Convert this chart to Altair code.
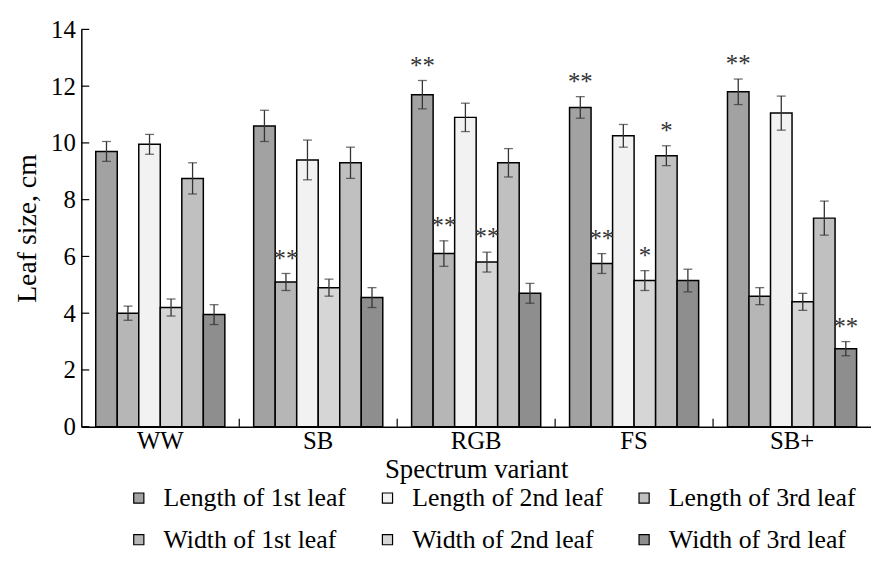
import altair as alt
import pandas as pd

categories = ["WW", "SB", "RGB", "FS", "SB+"]
bar_order = ["Length of 1st leaf", "Width of 1st leaf", "Length of 2nd leaf",
             "Width of 2nd leaf", "Length of 3rd leaf", "Width of 3rd leaf"]
bar_fill = ["#a2a2a2", "#b6b6b6", "#f2f2f2", "#d6d6d6", "#c0c0c0", "#8e8e8e"]

L1 = [9.7, 10.6, 11.7, 11.25, 11.8]
L1_err = [0.35, 0.55, 0.5, 0.38, 0.45]
W1 = [4.0, 5.1, 6.1, 5.75, 4.6]
W1_err = [0.25, 0.3, 0.45, 0.35, 0.3]
L2 = [9.95, 9.4, 10.9, 10.25, 11.05]
L2_err = [0.35, 0.7, 0.5, 0.4, 0.6]
W2 = [4.2, 4.9, 5.8, 5.15, 4.4]
W2_err = [0.3, 0.3, 0.35, 0.35, 0.3]
L3 = [8.75, 9.3, 9.3, 9.55, 7.35]
L3_err = [0.55, 0.55, 0.5, 0.35, 0.6]
W3 = [3.95, 4.55, 4.7, 5.15, 2.75]
W3_err = [0.35, 0.35, 0.35, 0.4, 0.25]

L1_sig = ["", "", "**", "**", "**"]
W1_sig = ["", "**", "**", "**", ""]
L2_sig = ["", "", "", "", ""]
W2_sig = ["", "", "**", "*", ""]
L3_sig = ["", "", "", "*", ""]
W3_sig = ["", "", "", "", "**"]

y_ticks = [0, 2, 4, 6, 8, 10, 12, 14]

series = [
    ("Length of 1st leaf", L1, L1_err, L1_sig),
    ("Width of 1st leaf", W1, W1_err, W1_sig),
    ("Length of 2nd leaf", L2, L2_err, L2_sig),
    ("Width of 2nd leaf", W2, W2_err, W2_sig),
    ("Length of 3rd leaf", L3, L3_err, L3_sig),
    ("Width of 3rd leaf", W3, W3_err, W3_sig),
]
rows = []
for name, vals, errs, sigs in series:
    for c, v, e, s in zip(categories, vals, errs, sigs):
        rows.append({"variant": c, "series": name, "value": v,
                     "lo": v - e, "hi": v + e, "sig": s})
df = pd.DataFrame(rows)

W, H = 797, 401
FONT = "Liberation Serif"

x_scale = alt.Scale(domain=categories, paddingInner=0, paddingOuter=0)
x_enc = alt.X("variant:N", sort=categories, scale=x_scale,
              axis=alt.Axis(title="Spectrum variant", labelAngle=0, ticks=False,
                            labelPadding=2, titlePadding=3, domainColor="black",
                            labelFontSize=25, titleFontSize=27, labelColor="black",
                            titleColor="black", titleFontWeight="normal"))
x_plain = alt.X("variant:N", sort=categories, scale=x_scale)
xo_enc = alt.XOffset("series:N", sort=bar_order,
                     scale=alt.Scale(domain=bar_order, paddingInner=0,
                                     paddingOuter=0.67))
y_scale = alt.Scale(domain=[0, 14], nice=False)

base = alt.Chart(df)

bars = base.mark_bar(stroke="black", strokeWidth=1.5).encode(
    x=x_enc,
    xOffset=xo_enc,
    y=alt.Y("value:Q", scale=y_scale,
            axis=alt.Axis(title="Leaf size, cm", values=y_ticks, ticks=False,
                          grid=False, labelPadding=6, titlePadding=9,
                          domainColor="black", labelFontSize=25,
                          titleFontSize=28, labelColor="black",
                          titleColor="black", titleFontWeight="normal")),
    color=alt.Color("series:N",
                    scale=alt.Scale(domain=bar_order, range=bar_fill),
                    legend=alt.Legend(title=None, orient="none", legendX=45,
                                      legendY=460, columns=3, columnPadding=28,
                                      rowPadding=16, symbolType="square",
                                      symbolSize=105, symbolStrokeColor="black",
                                      symbolStrokeWidth=1.2, labelFontSize=26,
                                      labelOffset=12, labelLimit=0,
                                      labelColor="black", labelFont=FONT)),
)

err_line = base.mark_rule(color="#333333", strokeWidth=1.3).encode(
    x=x_plain, xOffset=xo_enc,
    y=alt.Y("lo:Q", scale=y_scale), y2="hi:Q")

cap_hi = base.mark_tick(color="#333333", thickness=1.3, size=9).encode(
    x=x_plain, xOffset=xo_enc, y=alt.Y("hi:Q", scale=y_scale))
cap_lo = base.mark_tick(color="#333333", thickness=1.3, size=9).encode(
    x=x_plain, xOffset=xo_enc, y=alt.Y("lo:Q", scale=y_scale))

stars = base.transform_filter(alt.datum.sig != "").mark_text(
    font=FONT, fontSize=25, color="#333333", baseline="alphabetic", dy=-7
).encode(x=x_plain, xOffset=xo_enc, y=alt.Y("hi:Q", scale=y_scale),
         text="sig:N")

xt = alt.Chart(pd.DataFrame({"variant": categories[1:]})).mark_rule(
    color="black", strokeWidth=1.2).encode(
    x=alt.X("variant:N", bandPosition=0, sort=categories, scale=x_scale),
    y=alt.value(H - 8), y2=alt.value(H))

yt = alt.Chart(pd.DataFrame({"t": y_ticks})).mark_rule(
    color="black", strokeWidth=1.2).encode(
    y=alt.Y("t:Q", scale=y_scale), x=alt.value(0), x2=alt.value(8))

chart = alt.layer(bars, err_line, cap_hi, cap_lo, stars, xt, yt).properties(
    width=W, height=H,
    autosize=alt.AutoSizeParams(type="none"),
    padding={"left": 74, "top": 19, "right": 0, "bottom": 140},
).configure(font=FONT).configure_view(stroke=None).configure_axis(
    labelFont=FONT, titleFont=FONT, domainWidth=1.5)

chart.save("out.html", embed_options={"renderer": "svg", "actions": False})
